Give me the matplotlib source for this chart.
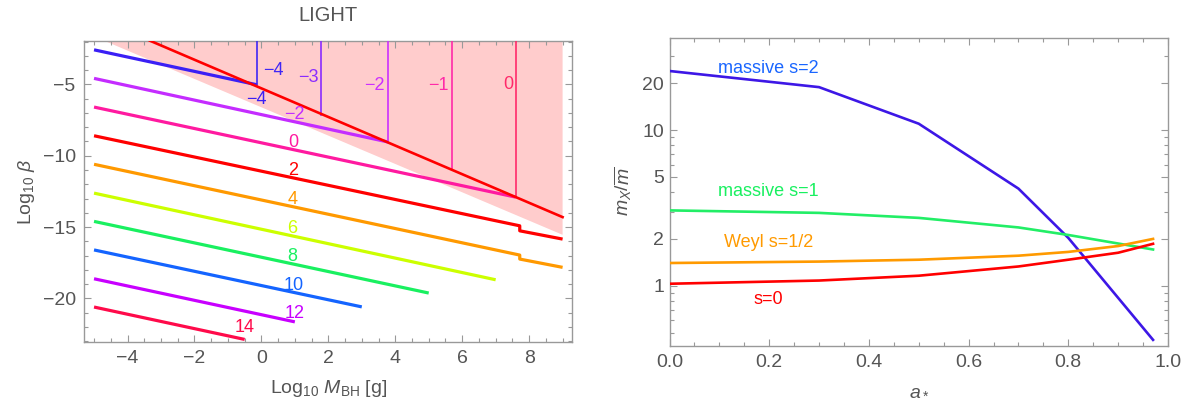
import matplotlib
matplotlib.use("Agg")
import matplotlib.pyplot as plt
from matplotlib.ticker import MultipleLocator, FixedLocator, NullFormatter, FixedFormatter

plt.rcParams['font.family'] = ['Liberation Sans', 'DejaVu Sans']
plt.rcParams['mathtext.fontset'] = 'custom'
plt.rcParams['mathtext.rm'] = 'Liberation Sans'
plt.rcParams['mathtext.it'] = 'Liberation Sans:italic'
plt.rcParams['mathtext.bf'] = 'Liberation Sans:bold'

TXT = '#555555'
FRAME = '#999999'

# ---------------- left panel data ----------------
M_n4 = [-5, -0.13];            B_n4 = [-2.58, -5.03]
M_n2 = [-5, 3.79];             B_n2 = [-4.58, -9.04]
M_0 = [-5, 7.6];               B_0 = [-6.59, -12.9]
M_2 = [-5, 7.72, 7.72, 9];     B_2 = [-8.6, -14.91, -15.26, -15.84]
M_4 = [-5, 7.72, 7.72, 9];     B_4 = [-10.6, -16.96, -17.24, -17.82]
M_6 = [-5, 7];                 B_6 = [-12.62, -18.69]
M_8 = [-5, 5];                 B_8 = [-14.6, -19.62]
M_10 = [-5, 3];                B_10 = [-16.6, -20.59]
M_12 = [-5, 1];                B_12 = [-18.62, -21.64]
M_14 = [-5, -0.5];             B_14 = [-20.6, -22.87]

line_colors = ['#3a1ff5', '#c42cff', '#ff1aa0', '#ff0000', '#ff9900',
               '#ccff00', '#19f060', '#1464ff', '#c800ff', '#ff0a4a']

line_lbl_text = ['\u22124', '\u22122', '0', '2', '4', '6', '8', '10', '12', '14']
line_lbl_M = [-0.14, 0.98, 0.94, 0.95, 0.92, 0.92, 0.92, 0.98, 0.98, -0.51]
line_lbl_B = [-6.03, -7.08, -9.04, -11.05, -13.05, -15.11, -17.08, -19.07, -21.05, -22.06]

vert_M = [-0.13, 1.78, 3.79, 5.69, 7.6]
vert_bottom = [-5.03, -7.13, -9.04, -10.94, -12.9]
vert_colors = ['#4027f5', '#8a2cff', '#cc30ff', '#ff2aa8', '#ff2a6a']
vert_lbl_text = ['\u22124', '\u22123', '\u22122', '\u22121', '0']
vert_lbl_M = [0.36, 1.40, 3.38, 5.28, 7.37]
vert_lbl_B = [-4.05, -4.51, -5.1, -5.1, -5.03]

bound_M = [-3.33, 9.0]
bound_B = [-1.94, -14.3]

pink_M = [-5.0, 9.0, 9.0, -5.0]
pink_B = [-1.64, -15.54, 0.0, 0.0]

# ---------------- right panel data ----------------
a_s2 = [0, 0.3, 0.5, 0.7, 0.8, 0.97]
m_s2 = [24.0, 18.9, 11.0, 4.21, 2.03, 0.449]
a_s1 = [0, 0.3, 0.5, 0.7, 0.8, 0.97]
m_s1 = [3.05, 2.94, 2.73, 2.37, 2.12, 1.71]
a_weyl = [0, 0.3, 0.5, 0.7, 0.8, 0.9, 0.97]
m_weyl = [1.40, 1.43, 1.47, 1.56, 1.65, 1.80, 2.0]
a_s0 = [0, 0.3, 0.5, 0.7, 0.8, 0.9, 0.97]
m_s0 = [1.03, 1.08, 1.16, 1.33, 1.47, 1.63, 1.86]

right_lbl_text = ['massive s=2', 'massive s=1', 'Weyl s=1/2', 's=0']
right_lbl_a = [0.198, 0.198, 0.198, 0.198]
right_lbl_m = [24.9, 4.01, 1.90, 0.81]
right_lbl_colors = ['#1a66ff', '#19f060', '#ff9a00', '#ff0000']
right_line_colors = ['#3d17e6', '#22ee66', '#ff9a00', '#ff0000']

y_major = [1, 2, 5, 10, 20]
y_major_lbl = ['1', '2', '5', '10', '20']
y_minor = [0.5, 0.6, 0.7, 0.8, 0.9, 3, 4, 6, 7, 8, 9, 30]

# ---------------- figure ----------------
fig = plt.figure(figsize=(11.93, 4.12), dpi=100)
axL = fig.add_axes([84/1193, 1-342/412, (572.3-84)/1193, (342-40.7)/412])
axR = fig.add_axes([669.5/1193, 1-345.5/412, (1168-669.5)/1193, (345.5-37.5)/412])


def style(ax):
    for sp in ax.spines.values():
        sp.set_color(FRAME)
        sp.set_linewidth(1.0)
    ax.tick_params(which='both', direction='in', top=True, right=True,
                   colors=FRAME, labelcolor=TXT, labelsize=14, width=0.8)
    ax.tick_params(which='major', length=5)
    ax.tick_params(which='minor', length=2.8)


# left
axL.fill(pink_M, pink_B, color='#ffcccc', lw=0, zorder=1)
Ms = [M_n4, M_n2, M_0, M_2, M_4, M_6, M_8, M_10, M_12, M_14]
Bs = [B_n4, B_n2, B_0, B_2, B_4, B_6, B_8, B_10, B_12, B_14]
for Mx, Bx, c in zip(Ms, Bs, line_colors):
    axL.plot(Mx, Bx, color=c, lw=2.3, zorder=3, solid_capstyle='butt')
for x, yb, c in zip(vert_M, vert_bottom, vert_colors):
    axL.plot([x, x], [yb, 0.0], color=c, lw=1.2, zorder=4)
axL.plot(bound_M, bound_B, color='#ff0000', lw=1.9, zorder=5)
for t, x, y, c in zip(line_lbl_text, line_lbl_M, line_lbl_B, line_colors):
    axL.text(x, y, t, color=c, fontsize=13, ha='center', va='center', zorder=6)
for t, x, y, c in zip(vert_lbl_text, vert_lbl_M, vert_lbl_B, vert_colors):
    axL.text(x, y, t, color=c, fontsize=13, ha='center', va='center', zorder=6)

axL.set_xlim(-5.3, 9.29)
axL.set_ylim(-23.05, -1.94)
axL.xaxis.set_major_locator(MultipleLocator(2))
axL.xaxis.set_minor_locator(MultipleLocator(0.5))
axL.yaxis.set_major_locator(MultipleLocator(5))
axL.yaxis.set_minor_locator(MultipleLocator(1))
style(axL)
axL.tick_params(axis='x', pad=6)
axL.tick_params(axis='y', pad=6)
axL.set_xlabel(r'Log$_{10}$ $M_{\rm BH}$ [g]', fontsize=14, color=TXT, labelpad=8)
axL.set_ylabel(r'Log$_{10}$ $\beta$', fontsize=14, color=TXT, labelpad=4)
axL.set_title('LIGHT', fontsize=14.5, color=TXT, pad=14)

# right
for ax_, my_, c in zip([a_s2, a_s1, a_weyl, a_s0], [m_s2, m_s1, m_weyl, m_s0], right_line_colors):
    axR.plot(ax_, my_, color=c, lw=1.9, zorder=3)
for t, x, y, c in zip(right_lbl_text, right_lbl_a, right_lbl_m, right_lbl_colors):
    axR.text(x, y, t, color=c, fontsize=13, ha='center', va='center')
axR.set_yscale('log')
axR.set_xlim(0, 1)
axR.set_ylim(0.413, 39.4)
axR.xaxis.set_major_locator(MultipleLocator(0.2))
axR.xaxis.set_minor_locator(MultipleLocator(0.05))
axR.yaxis.set_major_locator(FixedLocator(y_major))
axR.yaxis.set_major_formatter(FixedFormatter(y_major_lbl))
axR.yaxis.set_minor_locator(FixedLocator(y_minor))
axR.yaxis.set_minor_formatter(NullFormatter())
axR.xaxis.set_major_formatter(matplotlib.ticker.FormatStrFormatter('%.1f'))
style(axR)
axR.tick_params(axis='x', pad=6)
axR.tick_params(axis='y', pad=4)
axR.set_xlabel(r'$a_*$', fontsize=14, color=TXT, labelpad=8)
axR.set_ylabel(r'$m_X/\overline{m}$', fontsize=14, color=TXT, labelpad=6)

fig.savefig('out.png', dpi=100)
